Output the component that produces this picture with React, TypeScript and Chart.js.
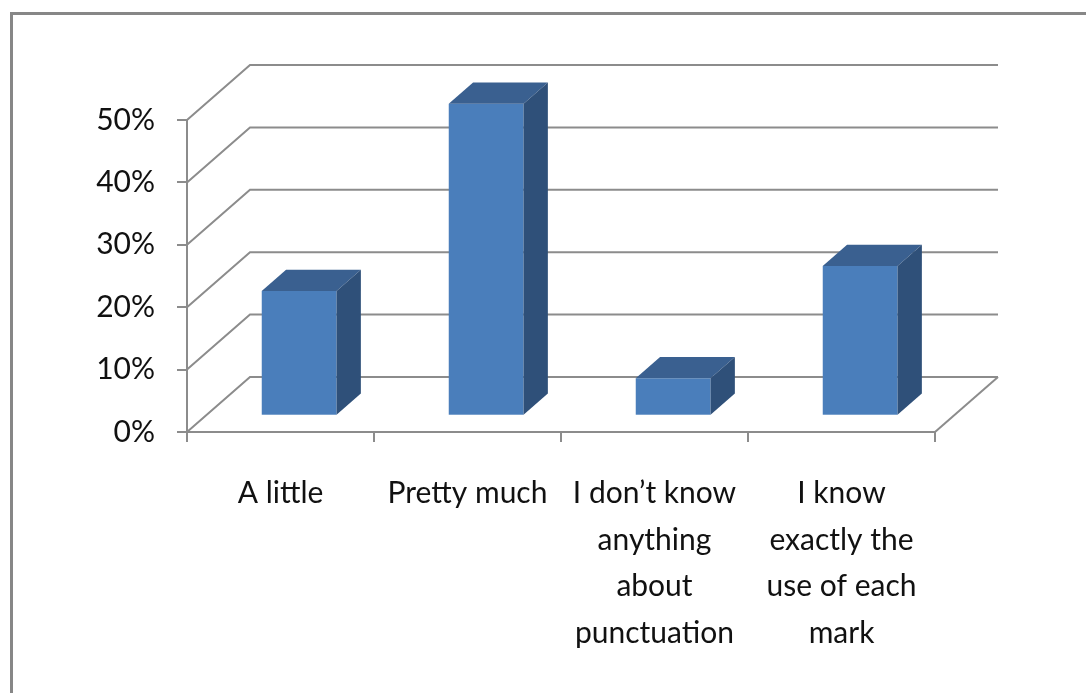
import React, { useEffect, useRef } from "react";
import { Chart, registerables } from "chart.js";

Chart.register(...registerables);

// ---- data ----
const categories: string[][] = [
  ["A little"],
  ["Pretty much"],
  ["I don’t know", "anything", "about", "punctuation"],
  ["I know", "exactly the", "use of each", "mark"],
];
const values: number[] = [20, 50, 6, 24];
const yMin = 0;
const yMax = 50;
const yStep = 10;

// ---- style ----
const GRID = "#8c8c8c";
const FRONT_COLOR = "#4a7ebb";
const TOP_COLOR = "#3a6090";
const SIDE_COLOR = "#2f5079";
const FONT = "Lato, 'Open Sans', sans-serif";

// oblique depth of the plot box, and bar placement inside it
const DEPTH = { x: 63, y: -55 };
const BAR_FRONT = 0.296;
const BAR_DEPTH = 0.386;

const excel3d = {
  id: "excel3d",
  beforeDatasetsDraw(chart: any) {
    const { ctx, chartArea: a, scales } = chart;
    const ys = scales.y;
    ctx.save();
    ctx.strokeStyle = GRID;
    ctx.lineWidth = 2;
    ys.ticks.forEach((t: any) => {
      const py = ys.getPixelForValue(t.value);
      ctx.beginPath();
      ctx.moveTo(a.left, py);
      ctx.lineTo(a.left + DEPTH.x, py + DEPTH.y);
      ctx.lineTo(a.right + DEPTH.x, py + DEPTH.y);
      ctx.stroke();
    });
    const p0 = ys.getPixelForValue(yMin);
    ctx.beginPath();
    ctx.moveTo(a.right, p0);
    ctx.lineTo(a.right + DEPTH.x, p0 + DEPTH.y);
    ctx.stroke();
    ctx.restore();
  },
  afterDatasetsDraw(chart: any) {
    const { ctx } = chart;
    const meta = chart.getDatasetMeta(0);
    const fx = DEPTH.x * BAR_FRONT;
    const fy = DEPTH.y * BAR_FRONT;
    const dx = DEPTH.x * BAR_DEPTH;
    const dy = DEPTH.y * BAR_DEPTH;
    ctx.save();
    meta.data.forEach((el: any) => {
      const { x, y, base, width } = el.getProps(["x", "y", "base", "width"], true);
      const l = x - width / 2 + fx;
      const r = x + width / 2 + fx;
      const t = y + fy;
      const b = base + fy;
      // front
      ctx.fillStyle = FRONT_COLOR;
      ctx.fillRect(l, t, r - l, b - t);
      // top
      ctx.fillStyle = TOP_COLOR;
      ctx.beginPath();
      ctx.moveTo(l, t);
      ctx.lineTo(r, t);
      ctx.lineTo(r + dx, t + dy);
      ctx.lineTo(l + dx, t + dy);
      ctx.closePath();
      ctx.fill();
      // side
      ctx.fillStyle = SIDE_COLOR;
      ctx.beginPath();
      ctx.moveTo(r, t);
      ctx.lineTo(r + dx, t + dy);
      ctx.lineTo(r + dx, b + dy);
      ctx.lineTo(r, b);
      ctx.closePath();
      ctx.fill();
    });
    ctx.restore();
  },
};

export default function App() {
  const ref = useRef<HTMLCanvasElement | null>(null);

  useEffect(() => {
    let chart: Chart | null = null;
    let cancelled = false;
    const make = () => {
      if (cancelled || !ref.current) return;
      chart = new Chart(ref.current, {
        type: "bar",
        data: {
          labels: categories,
          datasets: [
            {
              data: values,
              backgroundColor: "rgba(0,0,0,0)",
              borderWidth: 0,
              barPercentage: 0.4,
              categoryPercentage: 1,
            },
          ],
        },
        options: {
          responsive: false,
          animation: false,
          devicePixelRatio: 1,
          layout: { padding: { top: 120, right: 151, left: 0, bottom: 0 } },
          plugins: { legend: { display: false }, tooltip: { enabled: false } },
          scales: {
            x: {
              offset: true,
              grid: {
                offset: true,
                drawOnChartArea: false,
                drawTicks: true,
                tickLength: 10,
                color: GRID,
                lineWidth: 2,
              },
              border: { display: true, color: GRID, width: 2 },
              ticks: {
                color: "#111",
                padding: 28,
                maxRotation: 0,
                autoSkip: false,
                font: { family: FONT, size: 30, lineHeight: 1.556 },
              },
              afterFit: (s: any) => {
                s.height = 261;
              },
            },
            y: {
              min: yMin,
              max: yMax,
              grid: {
                drawOnChartArea: false,
                drawTicks: true,
                tickLength: 10,
                color: GRID,
                lineWidth: 2,
              },
              border: { display: true, color: GRID, width: 2 },
              ticks: {
                stepSize: yStep,
                color: "#111",
                padding: 22,
                font: { family: FONT, size: 30 },
                callback: (v: any) => `${v}%`,
              },
              afterFit: (s: any) => {
                s.width = 187;
              },
            },
          },
        },
        plugins: [excel3d],
      });
    };
    const fonts: any = (document as any).fonts;
    if (fonts && fonts.load) {
      fonts.load("30px Lato").then(make, make);
    } else {
      make();
    }
    return () => {
      cancelled = true;
      if (chart) chart.destroy();
    };
  }, []);

  return (
    <div
      style={{
        position: "absolute",
        left: 0,
        top: 0,
        width: 1086,
        height: 693,
        overflow: "hidden",
        background: "#fff",
      }}
    >
      <div
        style={{
          position: "absolute",
          left: 10,
          top: 12,
          width: 1300,
          height: 900,
          borderTop: "3px solid #878787",
          borderLeft: "3px solid #878787",
        }}
      />
      <canvas
        ref={ref}
        width={1086}
        height={693}
        style={{ position: "absolute", left: 0, top: 0, width: 1086, height: 693 }}
      />
    </div>
  );
}
